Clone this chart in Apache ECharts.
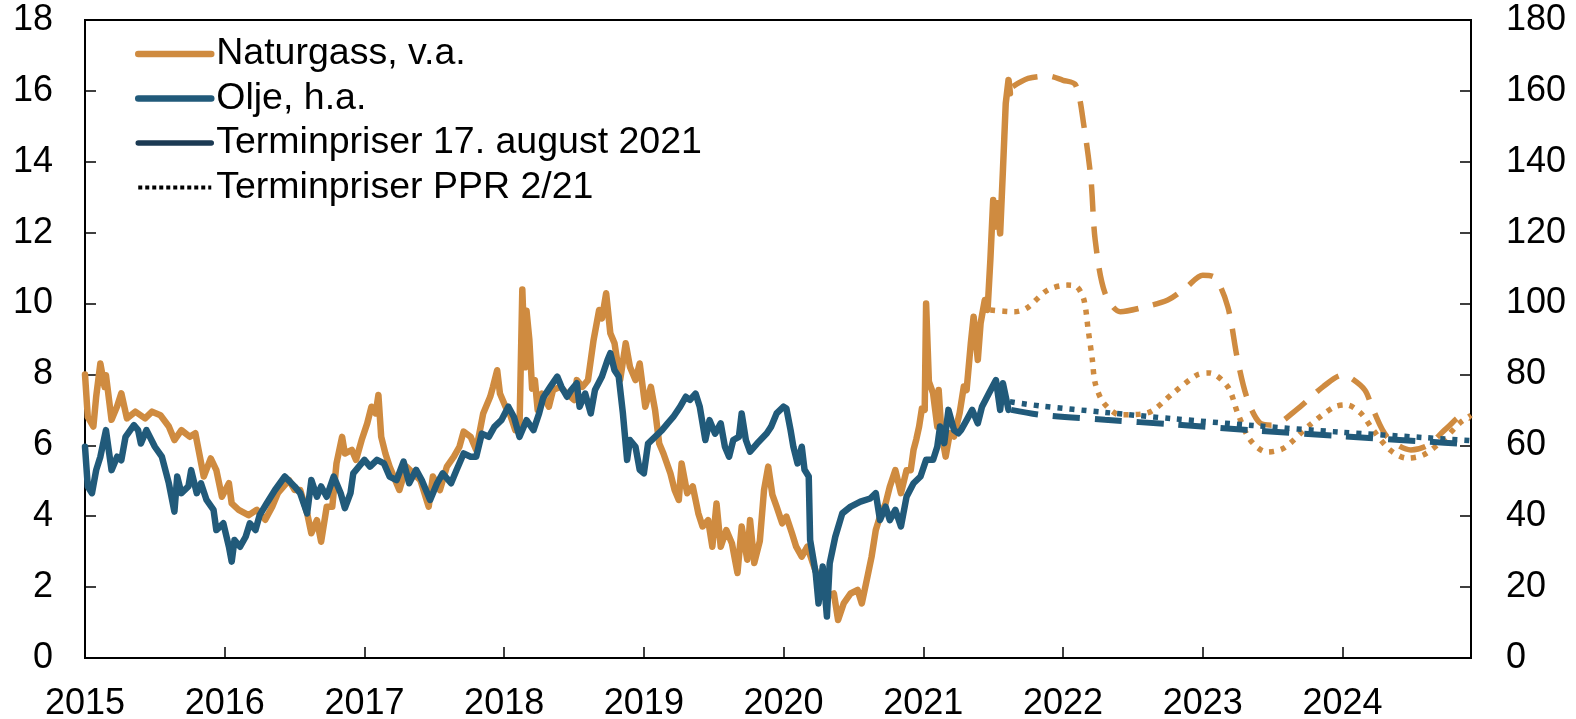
<!DOCTYPE html>
<html>
<head>
<meta charset="utf-8">
<script src="https://cdn.jsdelivr.net/npm/echarts@6/dist/echarts.min.js"></script>
<style>
  html, body { margin: 0; padding: 0; background: #fff; }
  #chart { width: 1576px; height: 719px; }
</style>
</head>
<body>
<div id="chart"></div>
<script>
// x = desimalår, gass på venstre akse, olje (USD) på høyre akse
const yearTicks = [2015, 2016, 2017, 2018, 2019, 2020, 2021, 2022, 2023, 2024];

const gasHist = [
  [2015.00, 8.0], [2015.02, 6.8], [2015.06, 6.53], [2015.08, 7.37], [2015.11, 8.31], [2015.14, 7.65],
  [2015.15, 7.98], [2015.19, 6.72], [2015.23, 7.1], [2015.26, 7.47], [2015.30, 6.76], [2015.36, 6.95],
  [2015.43, 6.76], [2015.48, 6.95], [2015.54, 6.85], [2015.60, 6.53], [2015.64, 6.15], [2015.69, 6.43],
  [2015.75, 6.24], [2015.79, 6.34], [2015.85, 5.12], [2015.90, 5.63], [2015.94, 5.3], [2015.98, 4.55],
  [2016.03, 4.93], [2016.05, 4.36], [2016.10, 4.18], [2016.17, 4.03], [2016.23, 4.18], [2016.29, 3.9],
  [2016.34, 4.27], [2016.38, 4.65], [2016.46, 5.02], [2016.50, 4.74], [2016.54, 4.74], [2016.59, 4.08],
  [2016.62, 3.52], [2016.66, 3.89], [2016.69, 3.28], [2016.73, 4.27], [2016.77, 4.27], [2016.80, 5.49],
  [2016.84, 6.24], [2016.86, 5.77], [2016.91, 5.87], [2016.94, 5.59], [2016.98, 6.15], [2017.02, 6.62],
  [2017.05, 7.09], [2017.08, 6.9], [2017.10, 7.42], [2017.12, 6.24], [2017.15, 5.77], [2017.18, 5.4],
  [2017.22, 5.02], [2017.25, 4.74], [2017.30, 5.4], [2017.35, 5.21], [2017.40, 5.02], [2017.46, 4.27],
  [2017.49, 5.12], [2017.54, 4.74], [2017.59, 5.4], [2017.64, 5.68], [2017.68, 5.96], [2017.71, 6.39],
  [2017.76, 6.24], [2017.80, 5.87], [2017.85, 6.9], [2017.90, 7.37], [2017.92, 7.65], [2017.95, 8.12],
  [2017.97, 7.46], [2018.01, 7.09], [2018.04, 6.9], [2018.08, 6.43], [2018.11, 6.52], [2018.13, 10.4],
  [2018.15, 8.2], [2018.16, 9.8], [2018.18, 9.0], [2018.20, 7.6], [2018.22, 7.84], [2018.24, 7.0],
  [2018.27, 7.46], [2018.32, 7.09], [2018.35, 7.56], [2018.40, 7.65], [2018.45, 7.46], [2018.50, 7.28],
  [2018.52, 7.84], [2018.56, 7.65], [2018.60, 7.84], [2018.64, 8.97], [2018.68, 9.82], [2018.70, 9.58],
  [2018.73, 10.29], [2018.76, 9.16], [2018.79, 8.88], [2018.83, 7.84], [2018.87, 8.88], [2018.90, 8.22],
  [2018.94, 7.84], [2018.97, 8.31], [2019.01, 7.09], [2019.05, 7.65], [2019.08, 7.0], [2019.11, 6.05],
  [2019.14, 5.77], [2019.19, 5.21], [2019.22, 4.74], [2019.25, 4.46], [2019.27, 5.49], [2019.31, 4.65],
  [2019.35, 4.84], [2019.39, 4.08], [2019.42, 3.71], [2019.46, 3.89], [2019.49, 3.14], [2019.52, 4.36],
  [2019.55, 3.14], [2019.59, 3.61], [2019.63, 3.24], [2019.67, 2.4], [2019.70, 3.71], [2019.74, 2.77],
  [2019.76, 3.89], [2019.79, 2.68], [2019.83, 3.3], [2019.86, 4.74], [2019.89, 5.4], [2019.92, 4.6],
  [2019.95, 4.27], [2019.99, 3.8], [2020.02, 3.99], [2020.06, 3.52], [2020.09, 3.14], [2020.13, 2.86],
  [2020.17, 3.14], [2020.21, 2.67], [2020.26, 2.11], [2020.31, 1.73], [2020.36, 1.82], [2020.39, 1.07],
  [2020.43, 1.54], [2020.48, 1.82], [2020.53, 1.92], [2020.56, 1.54], [2020.60, 2.29], [2020.63, 2.86],
  [2020.66, 3.61], [2020.69, 3.99], [2020.73, 4.36], [2020.76, 4.83], [2020.80, 5.3], [2020.84, 4.65],
  [2020.88, 5.3], [2020.91, 5.3], [2020.93, 5.87], [2020.95, 6.17], [2020.97, 6.53], [2020.99, 7.04],
  [2021.01, 7.0], [2021.02, 10.0], [2021.04, 7.8], [2021.07, 7.47], [2021.10, 6.53], [2021.11, 7.56],
  [2021.13, 6.34], [2021.16, 5.68], [2021.19, 6.34], [2021.22, 6.25], [2021.26, 6.91], [2021.29, 7.66],
  [2021.31, 7.56], [2021.34, 8.88], [2021.36, 9.63], [2021.39, 8.41], [2021.41, 9.44], [2021.44, 10.1],
  [2021.46, 9.82], [2021.48, 11.24], [2021.50, 12.92], [2021.51, 12.17], [2021.53, 12.83], [2021.55, 11.98],
  [2021.57, 13.77], [2021.58, 14.71], [2021.59, 15.65], [2021.61, 16.31], [2021.62, 15.93]
];

const oilHist = [
  [2015.00, 59.6], [2015.02, 48.4], [2015.05, 46.5], [2015.08, 53.0], [2015.11, 56.8], [2015.15, 64.3],
  [2015.19, 53.0], [2015.23, 56.8], [2015.26, 55.8], [2015.29, 62.4], [2015.35, 65.7], [2015.38, 64.3],
  [2015.40, 60.5], [2015.44, 64.3], [2015.50, 59.6], [2015.55, 56.8], [2015.60, 49.3], [2015.64, 41.3],
  [2015.66, 51.2], [2015.69, 46.5], [2015.74, 48.4], [2015.76, 53.0], [2015.80, 46.5], [2015.83, 49.3],
  [2015.87, 44.6], [2015.92, 41.8], [2015.94, 36.1], [2015.99, 38.0], [2016.03, 31.4], [2016.05, 27.2],
  [2016.07, 33.3], [2016.11, 31.4], [2016.15, 34.2], [2016.18, 38.0], [2016.22, 36.1], [2016.25, 40.3],
  [2016.30, 43.6], [2016.36, 47.4], [2016.43, 51.2], [2016.50, 48.4], [2016.54, 46.5], [2016.59, 40.8],
  [2016.62, 50.2], [2016.66, 45.5], [2016.69, 48.4], [2016.73, 45.5], [2016.78, 51.2], [2016.83, 46.5],
  [2016.86, 42.3], [2016.90, 46.5], [2016.92, 52.1], [2016.96, 54.0], [2017.00, 55.9], [2017.04, 54.0],
  [2017.09, 55.9], [2017.14, 54.9], [2017.18, 51.2], [2017.23, 50.2], [2017.28, 55.4], [2017.32, 49.3],
  [2017.37, 53.1], [2017.41, 50.2], [2017.44, 47.4], [2017.47, 44.6], [2017.52, 49.3], [2017.56, 52.1],
  [2017.62, 49.3], [2017.66, 53.1], [2017.71, 57.7], [2017.76, 56.8], [2017.80, 56.8], [2017.84, 63.3],
  [2017.89, 62.4], [2017.93, 65.2], [2017.98, 67.1], [2018.03, 70.9], [2018.07, 68.0], [2018.11, 62.4],
  [2018.16, 67.1], [2018.21, 64.3], [2018.25, 69.0], [2018.28, 73.5], [2018.33, 76.5], [2018.38, 79.4],
  [2018.41, 76.5], [2018.45, 73.7], [2018.48, 75.6], [2018.52, 77.5], [2018.54, 70.9], [2018.58, 74.6],
  [2018.62, 69.0], [2018.65, 75.6], [2018.70, 79.4], [2018.74, 84.1], [2018.76, 86.0], [2018.79, 81.2],
  [2018.82, 79.4], [2018.85, 69.0], [2018.88, 55.9], [2018.90, 61.5], [2018.94, 59.6], [2018.97, 53.1],
  [2019.00, 52.1], [2019.03, 60.5], [2019.08, 62.4], [2019.13, 64.3], [2019.17, 66.2], [2019.21, 68.0],
  [2019.26, 70.9], [2019.30, 73.7], [2019.33, 72.8], [2019.37, 74.6], [2019.40, 70.9], [2019.44, 61.5],
  [2019.47, 67.1], [2019.51, 63.3], [2019.55, 66.2], [2019.58, 59.6], [2019.61, 56.8], [2019.64, 61.5],
  [2019.68, 62.4], [2019.70, 69.0], [2019.73, 61.5], [2019.76, 58.2], [2019.81, 60.5], [2019.88, 63.4],
  [2019.91, 65.2], [2019.95, 69.0], [2020.00, 70.9], [2020.02, 70.4], [2020.05, 64.3], [2020.07, 59.6],
  [2020.10, 54.9], [2020.13, 59.6], [2020.15, 53.1], [2020.18, 51.2], [2020.19, 33.3], [2020.23, 23.9],
  [2020.25, 15.4], [2020.28, 25.8], [2020.31, 11.7], [2020.33, 26.7], [2020.37, 34.2], [2020.42, 40.8],
  [2020.48, 42.7], [2020.55, 44.1], [2020.62, 45.0], [2020.66, 46.5], [2020.69, 38.9], [2020.73, 42.7],
  [2020.76, 38.9], [2020.80, 41.8], [2020.84, 37.1], [2020.88, 45.5], [2020.93, 49.3], [2020.98, 51.2],
  [2021.02, 55.9], [2021.07, 55.9], [2021.10, 59.6], [2021.12, 65.3], [2021.15, 60.6], [2021.18, 70.0],
  [2021.22, 64.3], [2021.25, 63.4], [2021.27, 64.3], [2021.31, 67.1], [2021.35, 70.0], [2021.39, 66.2],
  [2021.42, 70.9], [2021.47, 74.7], [2021.52, 78.4], [2021.55, 70.0], [2021.57, 77.5], [2021.61, 70.0]
];

const gasFutAug = [
  [2021.64, 16.12], [2021.75, 16.35], [2021.89, 16.42], [2022.00, 16.3], [2022.09, 16.17], [2022.15, 15.0],
  [2022.20, 13.5], [2022.23, 11.8], [2022.30, 10.3], [2022.41, 9.77], [2022.55, 9.87], [2022.75, 10.1],
  [2022.88, 10.45], [2023.00, 10.8], [2023.09, 10.72], [2023.18, 9.9], [2023.25, 8.4], [2023.32, 7.3],
  [2023.41, 6.63], [2023.50, 6.57], [2023.67, 7.0], [2023.86, 7.65], [2024.00, 7.98], [2024.06, 7.9],
  [2024.16, 7.56], [2024.22, 7.0], [2024.32, 6.24], [2024.49, 5.87], [2024.61, 6.0], [2024.75, 6.5],
  [2024.87, 6.86], [2024.92, 6.75]
];

const gasFutPPR = [
  [2021.48, 9.82], [2021.65, 9.77], [2021.74, 9.87], [2021.89, 10.38], [2022.03, 10.52], [2022.10, 10.47],
  [2022.15, 10.1], [2022.18, 9.26], [2022.21, 8.41], [2022.23, 7.76], [2022.29, 7.2], [2022.41, 6.86],
  [2022.60, 6.91], [2022.79, 7.48], [2022.96, 7.99], [2023.05, 8.04], [2023.18, 7.65], [2023.25, 6.91],
  [2023.34, 6.15], [2023.46, 5.81], [2023.58, 5.92], [2023.75, 6.52], [2023.94, 7.08], [2024.03, 7.14],
  [2024.13, 6.91], [2024.22, 6.43], [2024.34, 5.87], [2024.46, 5.64], [2024.58, 5.73], [2024.72, 6.15],
  [2024.84, 6.63], [2024.92, 6.85]
];

const oilFutAug = [
  [2021.63, 70.0], [2021.84, 68.6], [2022.30, 67.2], [2022.79, 65.9], [2023.36, 64.2],
  [2023.99, 62.6], [2024.58, 61.1], [2024.92, 60.3]
];

const oilFutPPR = [
  [2021.62, 72.3], [2021.84, 71.1], [2022.30, 69.3], [2022.79, 67.5], [2023.36, 65.6],
  [2023.99, 63.7], [2024.58, 62.2], [2024.92, 61.3]
];

const gasColor = '#CF8B40';
const oilColor = '#215A7A';
const navy = '#1B3A53';
const font = "'Liberation Sans', Arial, sans-serif";

const chart = echarts.init(document.getElementById('chart'));

const axisLine = { show: true, lineStyle: { color: '#000', width: 2 } };
const axisTick = { show: true, inside: true, length: 11, lineStyle: { color: '#000', width: 1.5 } };
const label = { color: '#000', fontSize: 36, fontFamily: font };

const option = {
  animation: false,
  grid: {
    left: 85, right: 105, top: 20, bottom: 61,
    outerBoundsMode: 'none',
    show: true, borderColor: '#000', borderWidth: 2
  },
  legend: {
    left: 135, top: 32, padding: 0,
    orient: 'vertical',
    itemWidth: 73, itemHeight: 5, itemGap: 0.5,
    itemStyle: { opacity: 0 },
    lineStyle: { width: 'inherit' },
    textStyle: { color: '#000', fontSize: 37.5, fontFamily: font, lineHeight: 44 },
    data: ['Naturgass, v.a.', 'Olje, h.a.', 'Terminpriser 17. august 2021', 'Terminpriser PPR 2/21']
  },
  xAxis: {
    type: 'value', min: 2015, max: 2024.92, interval: 1,
    axisLine, axisTick,
    splitLine: { show: false },
    axisLabel: Object.assign({}, label, {
      margin: 28, showMaxLabel: false,
      formatter: v => {
        const r = Math.round(v);
        return Math.abs(v - r) < 1e-6 && yearTicks.includes(r) ? String(r) : '';
      }
    })
  },
  yAxis: [
    {
      type: 'value', min: 0, max: 18, interval: 2, position: 'left',
      axisLine, axisTick, splitLine: { show: false },
      axisLabel: Object.assign({}, label, { margin: 32 })
    },
    {
      type: 'value', min: 0, max: 180, interval: 20, position: 'right',
      axisLine, axisTick, splitLine: { show: false },
      axisLabel: Object.assign({}, label, { margin: 35 })
    }
  ],
  series: [
    {
      name: 'Naturgass, v.a.', type: 'line', yAxisIndex: 0, data: gasHist,
      symbol: 'none', color: gasColor,
      lineStyle: { color: gasColor, width: 6.5, cap: 'round', join: 'round' }
    },
    {
      name: 'Olje, h.a.', type: 'line', yAxisIndex: 1, data: oilHist,
      symbol: 'none', color: oilColor,
      lineStyle: { color: oilColor, width: 6.5, cap: 'round', join: 'round' }
    },
    {
      name: 'gassTerminAug', type: 'line', yAxisIndex: 0, data: gasFutAug,
      symbol: 'none', smooth: 0.3,
      lineStyle: { color: gasColor, width: 5.5, type: [27, 15] }
    },
    {
      name: 'gassTerminPPR', type: 'line', yAxisIndex: 0, data: gasFutPPR,
      symbol: 'none', smooth: 0.3,
      lineStyle: { color: gasColor, width: 5.5, type: [5, 7] }
    },
    {
      name: 'oljeTerminAug', type: 'line', yAxisIndex: 1, data: oilFutAug,
      symbol: 'none', smooth: 0.3,
      lineStyle: { color: oilColor, width: 6, type: [27, 15] }
    },
    {
      name: 'oljeTerminPPR', type: 'line', yAxisIndex: 1, data: oilFutPPR,
      symbol: 'none', smooth: 0.3,
      lineStyle: { color: oilColor, width: 5.5, type: [5, 7] }
    },
    {
      name: 'Terminpriser 17. august 2021', type: 'line', data: [],
      symbol: 'none', color: navy,
      lineStyle: { color: navy, width: 5.5, cap: 'round' }
    },
    {
      name: 'Terminpriser PPR 2/21', type: 'line', data: [],
      symbol: 'none', color: '#000',
      lineStyle: { color: '#000', width: 4, type: [4, 3] }
    }
  ]
};

chart.setOption(option);
</script>
</body>
</html>
